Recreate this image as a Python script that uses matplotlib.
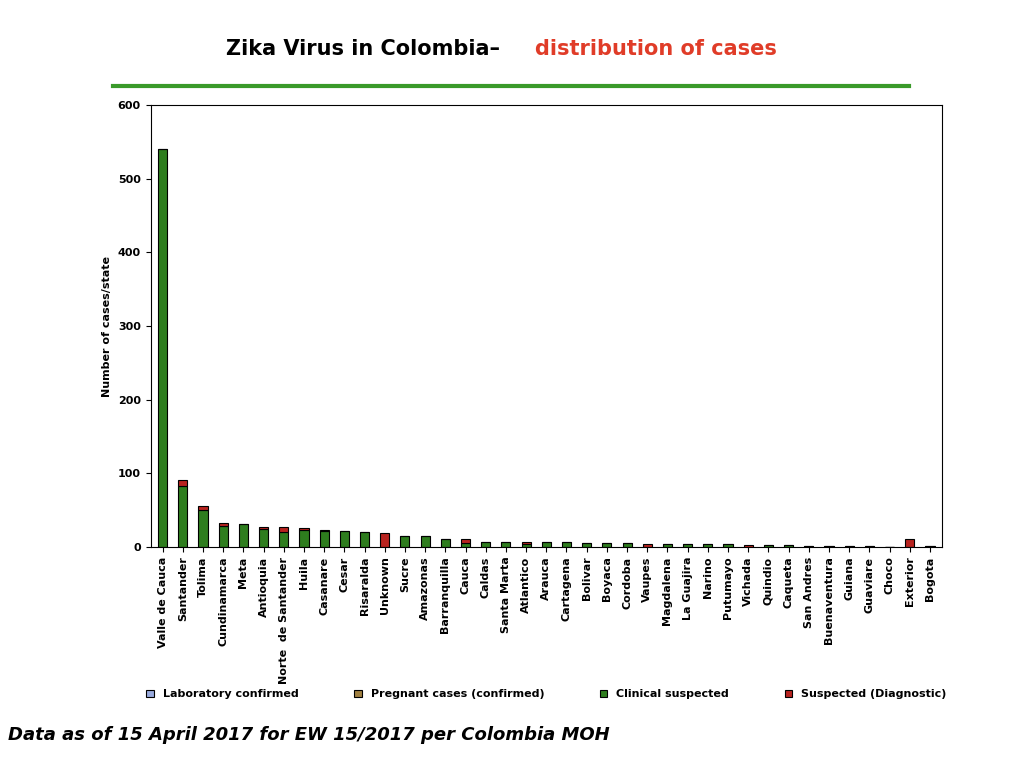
import numpy as np, pandas as pd, matplotlib
matplotlib.use('Agg'); import matplotlib.pyplot as plt

rows = [
 ('Valle de Cauca', 540, 1), ('Santander', 83, 8), ('Tolima', 50, 6), ('Cundinamarca', 28, 5),
 ('Meta', 31, 0), ('Antioquia', 24, 3), ('Norte  de Santander', 20, 7), ('Huila', 23, 3),
 ('Casanare', 21, 2), ('Cesar', 22, 0), ('Risaralda', 20, 0), ('Unknown', 0, 19),
 ('Sucre', 15, 0), ('Amazonas', 15, 0), ('Barranquilla', 11, 0), ('Cauca', 5, 5),
 ('Caldas', 7, 0), ('Santa Marta', 7, 0), ('Atlantico', 4, 3), ('Arauca', 7, 0),
 ('Cartagena', 7, 0), ('Bolivar', 5, 0), ('Boyaca', 5, 0), ('Cordoba', 5, 0),
 ('Vaupes', 0, 4), ('Magdalena', 4, 0), ('La Guajira', 4, 0), ('Narino', 4, 0),
 ('Putumayo', 4, 0), ('Vichada', 0, 3), ('Quindio', 3, 0), ('Caqueta', 3, 0),
 ('San Andres', 1.5, 0), ('Buenaventura', 1, 0), ('Guiana', 1, 0), ('Guaviare', 1, 0),
 ('Choco', 0, 0), ('Exterior', 0, 11), ('Bogota', 1.5, 0),
]
df = pd.DataFrame(rows, columns=['state', 'clinical', 'suspected'])
df['lab'] = 0.0; df['pregnant'] = 0.0

colors = {'lab': '#99AADD', 'pregnant': '#A08040', 'clinical': '#2E7D1E', 'suspected': '#B8231F'}
labels = {'lab': 'Laboratory confirmed', 'pregnant': 'Pregnant cases (confirmed)',
          'clinical': 'Clinical suspected', 'suspected': 'Suspected (Diagnostic)'}
x = np.arange(len(df))
fig = plt.figure(figsize=(10.24, 7.68), dpi=100)
ax = fig.add_axes([0.147, 0.288, 0.773, 0.575])
bottom = np.zeros(len(df))
for k in ['lab', 'pregnant', 'clinical', 'suspected']:
    ax.bar(x, df[k], 0.45, bottom=bottom, color=colors[k], edgecolor='black', linewidth=0.8,
           label=labels[k])
    bottom += df[k].values
ax.set_xlim(-0.6, len(df) - 0.4); ax.set_ylim(0, 600)
ax.set_yticks(range(0, 601, 100))
ax.set_xticks(x); ax.set_xticklabels(df['state'], rotation=90, fontsize=8, fontweight='bold')
ax.tick_params(axis='y', labelsize=8)
for t in ax.get_yticklabels(): t.set_fontweight('bold')
ax.set_ylabel('Number of cases/state', fontsize=8, fontweight='bold')
ax.legend(loc='upper center', bbox_to_anchor=(0.5, -0.3), ncol=4, frameon=False, fontsize=8,
          prop={'weight': 'bold', 'size': 8}, handlelength=0.7, handleheight=0.7, columnspacing=5)
fig.text(0.495, 0.928, 'Zika Virus in Colombia\u2013 ', ha='right', fontsize=15, fontweight='bold')
fig.text(0.522, 0.928, 'distribution of cases', ha='left', fontsize=15, fontweight='bold', color='#E03C28')
fig.add_artist(plt.Line2D([0.11, 0.888], [0.888, 0.888], color='#3A9A2A', linewidth=3))
fig.text(0.008, 0.037, 'Data as of 15 April 2017 for EW 15/2017 per Colombia MOH',
         fontsize=13, fontweight='bold', style='italic')
plt.savefig('out.png', dpi=100); plt.close()
